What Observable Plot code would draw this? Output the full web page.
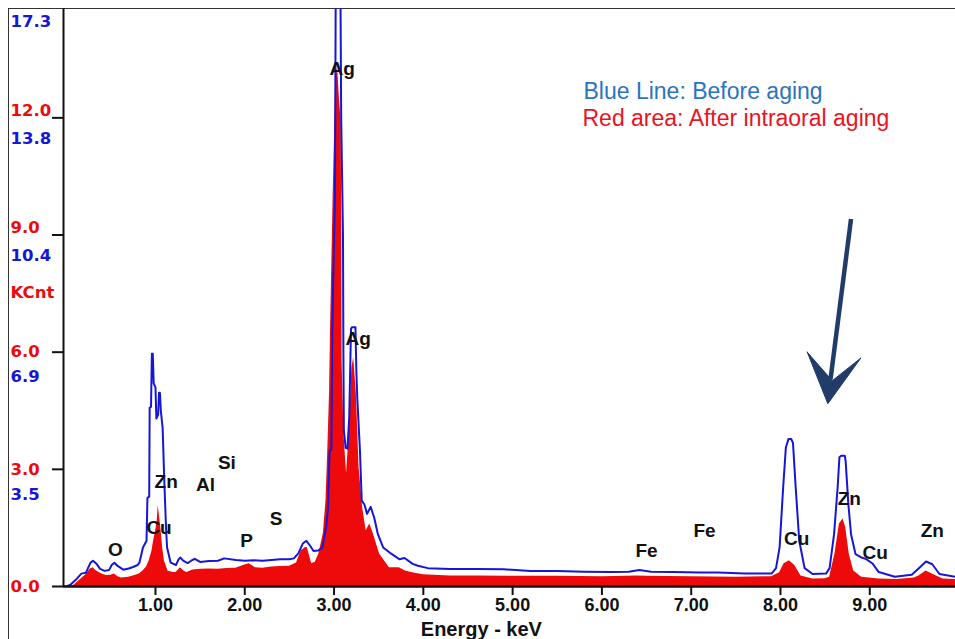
<!DOCTYPE html>
<html>
<head>
<meta charset="utf-8">
<script src="https://cdn.jsdelivr.net/npm/d3@7"></script>
<script src="https://cdn.jsdelivr.net/npm/@observablehq/plot@0.6"></script>
<style>
  html, body { margin: 0; padding: 0; background: #ffffff; }
  #wrap { position: relative; width: 955px; height: 639px; overflow: hidden; }
  #frame { position: absolute; left: 8px; top: 8px; right: -4px; bottom: -4px;
           border-left: 1.5px solid #333; border-top: 1.5px solid #333; pointer-events: none; }
  #wrap svg { position: absolute; left: 0; top: 0; }
  #wrap svg [aria-label="x-axis tick label"] text { font-weight: bold; }
</style>
</head>
<body>
<div id="wrap"><div id="frame"></div></div>
<script>
// ---- Data (energy in keV, counts in KCnt on the red scale) ----
const blueEnergy = [0.00,0.05,0.12,0.17,0.22,0.27,0.30,0.34,0.38,0.43,0.48,0.51,0.54,0.58,0.64,0.70,0.75,0.80,0.82,0.84,0.86,0.90,0.91,0.93,0.935,0.95,0.96,0.97,0.98,1.00,1.01,1.03,1.04,1.05,1.06,1.08,1.10,1.12,1.13,1.17,1.23,1.26,1.28,1.31,1.36,1.40,1.44,1.50,1.60,1.70,1.77,1.90,2.00,2.10,2.20,2.30,2.40,2.50,2.55,2.60,2.65,2.69,2.73,2.77,2.82,2.87,2.91,2.93,2.95,2.97,2.98,2.99,3.01,3.02,3.07,3.08,3.10,3.105,3.11,3.13,3.15,3.17,3.19,3.20,3.24,3.25,3.26,3.29,3.31,3.34,3.37,3.41,3.45,3.49,3.55,3.64,3.73,3.79,3.88,3.94,4.05,4.30,4.60,4.90,5.20,5.50,5.80,6.10,6.30,6.42,6.55,6.80,7.10,7.30,7.60,7.90,7.95,7.99,8.03,8.06,8.09,8.12,8.14,8.17,8.21,8.27,8.36,8.51,8.55,8.60,8.64,8.66,8.68,8.72,8.73,8.76,8.79,8.84,8.90,8.96,9.03,9.10,9.28,9.47,9.55,9.63,9.70,9.78,9.96];
const blueCounts = [0.00,0.05,0.20,0.33,0.35,0.60,0.66,0.58,0.45,0.40,0.42,0.55,0.61,0.52,0.43,0.46,0.50,0.55,0.61,0.80,1.00,1.17,2.27,2.30,4.58,4.60,5.96,5.96,5.20,5.10,4.30,4.40,4.96,4.96,4.50,4.07,2.63,1.40,1.00,0.61,0.55,0.70,0.74,0.66,0.60,0.66,0.71,0.63,0.65,0.66,0.72,0.68,0.66,0.67,0.66,0.68,0.70,0.70,0.72,0.85,1.10,1.17,1.05,0.91,0.92,1.00,1.50,1.94,3.48,3.50,6.50,7.75,10.0,16.0,16.0,12.0,9.00,5.86,3.99,3.55,3.53,4.33,6.60,6.64,6.64,5.50,4.84,3.48,2.20,2.10,1.86,2.04,1.76,1.35,1.00,0.84,0.70,0.73,0.58,0.53,0.47,0.45,0.45,0.44,0.40,0.40,0.38,0.37,0.38,0.42,0.38,0.37,0.36,0.36,0.33,0.33,0.47,1.00,2.54,3.56,3.78,3.78,3.67,2.54,1.17,0.47,0.32,0.33,0.47,1.34,2.54,3.31,3.35,3.35,3.20,2.11,1.34,0.83,0.75,0.70,0.59,0.37,0.25,0.30,0.47,0.64,0.57,0.32,0.25];

const redEnergy = [0.00,0.08,0.12,0.17,0.22,0.27,0.30,0.34,0.40,0.45,0.50,0.54,0.58,0.62,0.70,0.77,0.82,0.86,0.90,0.93,0.96,0.98,1.00,1.02,1.03,1.04,1.06,1.08,1.10,1.14,1.20,1.23,1.28,1.32,1.35,1.42,1.51,1.60,1.70,1.80,1.90,2.00,2.05,2.12,2.20,2.30,2.40,2.50,2.58,2.63,2.68,2.70,2.75,2.79,2.83,2.88,2.91,2.93,2.95,2.96,2.99,3.02,3.04,3.06,3.08,3.085,3.09,3.11,3.14,3.17,3.20,3.22,3.25,3.28,3.32,3.36,3.40,3.44,3.51,3.62,3.73,3.80,3.88,4.00,4.30,4.60,5.00,5.50,6.00,6.40,6.50,7.00,7.50,7.90,7.99,8.04,8.10,8.16,8.23,8.36,8.50,8.55,8.61,8.66,8.70,8.73,8.77,8.82,8.91,9.10,9.30,9.50,9.55,9.63,9.70,9.82,9.96];
const redCounts = [0.00,0.02,0.10,0.20,0.30,0.45,0.48,0.40,0.32,0.28,0.29,0.32,0.25,0.22,0.24,0.28,0.32,0.40,0.50,0.66,0.90,1.17,1.40,1.68,2.07,1.90,1.50,1.00,0.66,0.40,0.36,0.36,0.48,0.40,0.36,0.42,0.44,0.45,0.44,0.46,0.47,0.55,0.58,0.48,0.47,0.50,0.51,0.52,0.60,0.91,1.00,1.00,0.58,0.62,0.83,1.35,2.20,3.48,5.00,6.50,10.0,13.0,13.3,12.5,11.9,9.55,5.79,3.94,2.89,3.94,5.60,5.86,4.93,3.05,2.02,1.43,1.60,1.35,0.83,0.48,0.48,0.40,0.35,0.30,0.27,0.27,0.26,0.26,0.25,0.27,0.26,0.25,0.24,0.25,0.35,0.58,0.66,0.54,0.27,0.19,0.20,0.24,0.83,1.60,1.73,1.52,0.83,0.40,0.24,0.19,0.18,0.22,0.27,0.40,0.32,0.19,0.18];

// element peak labels
const elemNames  = ["Ag","Ag","Zn","Cu","Al","Si","O","P","S","Fe","Fe","Cu","Zn","Cu","Zn"];
const elemEnergy = [3.09,3.27,1.12,1.04,1.56,1.80,0.55,2.02,2.35,6.50,7.15,8.18,8.77,9.06,9.70];
const elemCounts = [13.25,6.33,2.68,1.51,2.61,3.17,0.94,1.17,1.74,0.92,1.43,1.22,2.25,0.86,1.43];

// axis ticks
const xTicks = [1,2,3,4,5,6,7,8,9];
const redTicks = [0,3,6,9,12];
const redTickLabels = ["0.0","3.0","6.0","9.0","12.0"];
const blueTickLabels = ["3.5","6.9","10.4","13.8","17.3"];
const blueLabelAt = [3,6,9,12,15];

// annotation arrow (data coords)
const arrowShaft = [{x1: 8.79, y1: 9.41, x2: 8.56, y2: 5.3}];
const arrowHeadX = [8.30, 8.53, 8.90, 8.58, 8.30];
const arrowHeadY = [6.00, 4.68, 5.85, 5.27, 6.00];

const xDomain = [-0.03, 9.96];
const yDomain = [0, 14.8];

// ---- tables ----
const blue = blueEnergy.map((e, i) => ({e, c: blueCounts[i]}));
const red = redEnergy.map((e, i) => ({e, c: redCounts[i]}));
const elems = elemNames.map((t, i) => ({t, e: elemEnergy[i], c: elemCounts[i]}));
const redLbl = redTicks.map((v, i) => ({v, t: redTickLabels[i]}));
const blueLbl = blueLabelAt.map((v, i) => ({v, t: blueTickLabels[i]}));
const head = arrowHeadX.map((x, i) => ({x, y: arrowHeadY[i]}));

const RED = "#ee0a0a";
const BLUE = "#1616d6";
const NAVY = "#213c68";
const yFont = "DejaVu Sans";
const yFs = 16.5;

const chart = Plot.plot({
  width: 955,
  height: 639,
  marginLeft: 63,
  marginRight: 0,
  marginTop: 8,
  marginBottom: 53,
  x: {domain: xDomain},
  y: {domain: yDomain},
  style: {background: "transparent", overflow: "visible", fontFamily: "Liberation Sans"},
  marks: [
    Plot.areaY(red, {x: "e", y: "c", fill: RED, clip: true}),
    Plot.lineY(blue, {x: "e", y: "c", stroke: BLUE, strokeWidth: 2, clip: true}),
    // axes
    Plot.ruleX([xDomain[0]], {stroke: "#111", strokeWidth: 2}),
    Plot.ruleY([0], {stroke: "#111", strokeWidth: 2.5}),
    Plot.axisY(redTicks, {tickSize: 11, tickFormat: () => "", label: null, stroke: "#111", strokeWidth: 2}),
    Plot.axisX(xTicks, {tickSize: 9, tickPadding: 3, tickFormat: d => d.toFixed(2), label: null,
      fontSize: 18, fontWeight: "bold", fill: "#111", stroke: "#111", strokeWidth: 2}),
    // y tick labels (red then blue)
    Plot.text(redLbl.filter(d => d.v < 8), {y: "v", text: "t", frameAnchor: "left", dx: -53, textAnchor: "start",
      fill: RED, fontSize: yFs, fontWeight: "bold", fontFamily: yFont}),
    Plot.text(redLbl.filter(d => d.v > 8), {y: "v", text: "t", frameAnchor: "left", dx: -53, dy: -7, textAnchor: "start",
      fill: RED, fontSize: yFs, fontWeight: "bold", fontFamily: yFont}),
    Plot.text(blueLbl.filter(d => d.v < 8), {y: "v", text: "t", frameAnchor: "left", dx: -53, dy: 25, textAnchor: "start",
      fill: BLUE, fontSize: yFs, fontWeight: "bold", fontFamily: yFont}),
    Plot.text(blueLbl.filter(d => d.v > 8), {y: "v", text: "t", frameAnchor: "left", dx: -53, dy: 21, textAnchor: "start",
      fill: BLUE, fontSize: yFs, fontWeight: "bold", fontFamily: yFont}),
    Plot.text(["KCnt"], {y: redTicks[3], text: d => d, frameAnchor: "left", dx: -53, dy: 58, textAnchor: "start",
      fill: RED, fontSize: yFs, fontWeight: "bold", fontFamily: yFont}),
    // x axis title
    Plot.text(["Energy - keV"], {text: d => d, frameAnchor: "bottom", dy: 49, lineAnchor: "bottom",
      fill: "#111", fontSize: 20, fontWeight: "bold", x: () => 4.65}),
    // element labels
    Plot.text(elems, {x: "e", y: "c", text: "t", fill: "#111", fontSize: 19, fontWeight: "bold"}),
    // legend
    Plot.text(["Blue Line: Before aging"], {text: d => d, frameAnchor: "top-left", dx: 520, dy: 90,
      textAnchor: "start", lineAnchor: "bottom", fill: "#2b74bd", fontSize: 23}),
    Plot.text(["Red area: After intraoral aging"], {text: d => d, frameAnchor: "top-left", dx: 519, dy: 117,
      textAnchor: "start", lineAnchor: "bottom", fill: "#e8141e", fontSize: 23}),
    // arrow
    Plot.link(arrowShaft, {x1: "x1", y1: "y1", x2: "x2", y2: "y2", stroke: NAVY, strokeWidth: 4.5}),
    Plot.line(head, {x: "x", y: "y", fill: NAVY, stroke: NAVY, strokeWidth: 1, curve: "linear-closed"})
  ]
});
document.getElementById("wrap").appendChild(chart);
</script>
</body>
</html>
